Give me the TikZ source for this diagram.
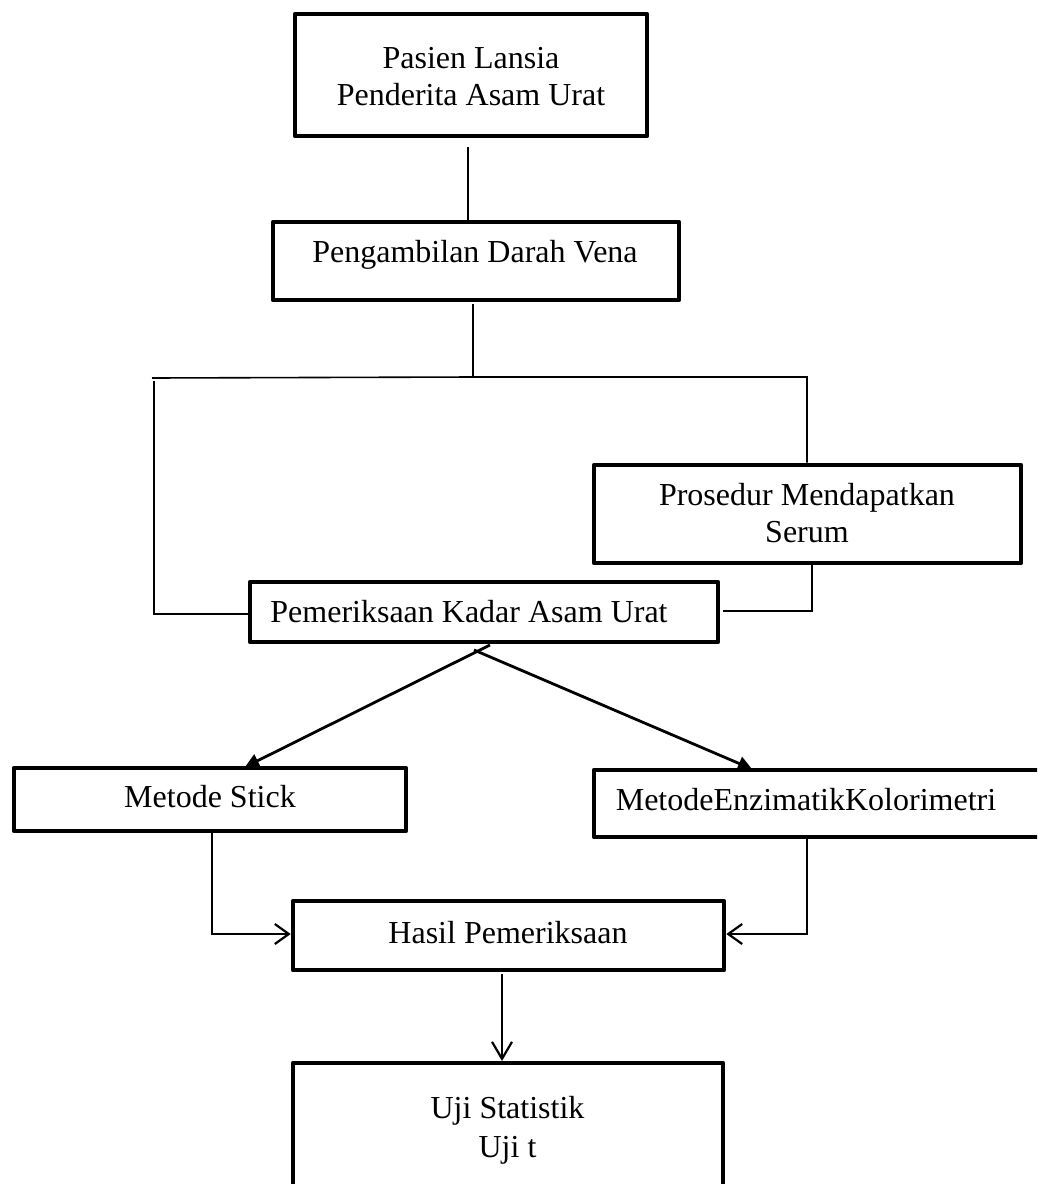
\documentclass[tikz,border=0pt]{standalone}
\usepackage{fontspec}
\setmainfont{Liberation Serif}
\usetikzlibrary{arrows.meta}
\begin{document}
\begin{tikzpicture}[x=1pt,y=-1pt,
  box/.style={draw, line width=4.6pt, line join=round, inner sep=0pt},
  txt/.style={inner sep=0pt, anchor=base, font=\fontsize{32}{37}\selectfont},
  thinline/.style={line width=1.6pt},
  diag/.style={line width=2.8pt, -{Triangle[length=14pt,width=14pt]}},
  barb/.style={line width=2.2pt, -{Straight Barb[length=17pt,width=20pt]}},
  barbthin/.style={line width=1.7pt, -{Straight Barb[length=14pt,width=20pt,line width=2.2pt]}}]
\path[use as bounding box, clip] (0,0) rectangle (1037,1184);
\fill[white] (0,0) rectangle (1037,1184);

% boxes
\node[box, minimum width=352pt, minimum height=122pt] (b1) at (471,75) {};
\node[box, minimum width=406pt, minimum height=78pt] (b2) at (476,261) {};
\node[box, minimum width=427pt, minimum height=98pt] (b3) at (807.5,514) {};
\node[box, minimum width=468pt, minimum height=60pt] (b4) at (484,612) {};
\node[box, minimum width=392pt, minimum height=63pt] (b5) at (210,799.5) {};
\node[box, minimum width=456pt, minimum height=67pt] (b6) at (822,803.5) {};
\node[box, minimum width=431pt, minimum height=69pt] (b7) at (508.5,935.5) {};
\node[box, minimum width=430pt, minimum height=157pt] (b8) at (508,1141.5) {};

% texts
\node[txt] (t1a) at (471,68) {Pasien Lansia};
\node[txt] (t1b) at (471,105) {Penderita Asam Urat};
\node[txt] (t2) at (475,262) {Pengambilan Darah Vena};
\node[txt] (t3a) at (807,505) {Prosedur Mendapatkan};
\node[txt] (t3b) at (807,542) {Serum};
\node[txt] (t4) at (469,622) {Pemeriksaan Kadar Asam Urat};
\node[txt] (t5) at (210,807) {Metode Stick};
\node[txt] (t6) at (806,810) {MetodeEnzimatikKolorimetri};
\node[txt] (t7) at (508,943) {Hasil Pemeriksaan};
\node[txt] (t8a) at (507.5,1118) {Uji Statistik};
\node[txt] (t8b) at (507.5,1157) {Uji t};

% connectors
\coordinate (c1a) at (468,147);
\draw[thinline] (c1a) -- (c1a |- b2.north);

\coordinate (c2a) at (473,304);
\coordinate (jn) at (473,377);
\draw[thinline] (c2a) -- (jn);
\coordinate (hl) at (152,378);
\coordinate (hr) at (807,377);
\draw[thinline] (hl) -- (jn) -- (hr) -- (hr |- b3.north);

\coordinate (vl) at (154,381);
\coordinate (vlb) at (154,614);
\draw[thinline] (vl) -- (vlb) -- (vlb -| b4.west);

\coordinate (pr) at (812,611);
\coordinate (pre) at (723,611);
\draw[thinline] (pr |- b3.south) -- (pr) -- (pre);

\coordinate (dl) at (490,645);
\coordinate (dr) at (474,650);
\coordinate (tl) at (245,767);
\coordinate (tr) at (752,769);
\draw[diag] (dl) -- (tl);
\draw[diag] (dr) -- (tr);

\coordinate (ms) at (212,934);
\draw[barbthin] (ms |- b5.south) -- (ms) -- (ms -| b7.west);
\coordinate (ek) at (807,934);
\draw[barbthin] (ek |- b6.south) -- (ek) -- (ek -| b7.east);

\coordinate (hd) at (502,974);
\coordinate (hu) at (502,1061);
\draw[barb] (hd) -- (hu);
\end{tikzpicture}
\end{document}
